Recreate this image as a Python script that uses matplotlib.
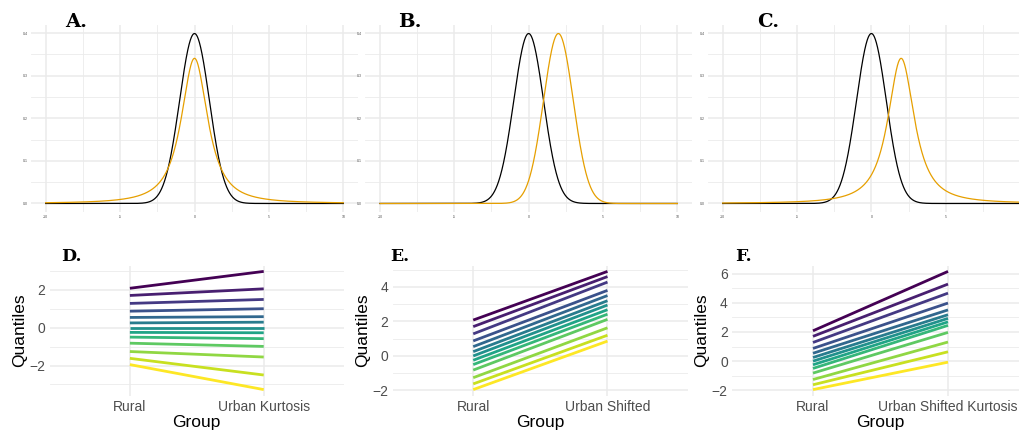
import math
import numpy as np
import matplotlib
matplotlib.use("Agg")
import matplotlib.pyplot as plt

plt.rcParams["font.family"] = ["Liberation Sans", "DejaVu Sans"]

# top row: density curves (normal vs heavy-tailed t)
norm_mean = 0.0
norm_sd = 1.0
t_df = 1.5
shift = 2.0
x_range = (-10, 10)

# bottom row: quantiles per group
rural = [2.08, 1.70, 1.28, 0.87, 0.54, 0.25, 0.00, -0.25, -0.50, -0.82, -1.26, -1.62, -1.95]
urban_kurtosis = [2.97, 2.05, 1.49, 1.00, 0.58, 0.29, 0.00, -0.27, -0.58, -0.99, -1.55, -2.50, -3.27]
urban_shifted = [4.90, 4.60, 4.28, 3.80, 3.50, 3.20, 2.95, 2.68, 2.42, 2.12, 1.63, 1.20, 0.86]
urban_shift_kurt = [6.15, 5.28, 4.66, 3.98, 3.51, 3.18, 2.93, 2.69, 2.45, 1.97, 1.31, 0.64, -0.07]

ORANGE = "#E69F00"
GRID = "#EBEBEB"
W, H = 1019, 433


def dnorm(x, m, s):
    return np.exp(-0.5 * ((x - m) / s) ** 2) / (s * np.sqrt(2 * np.pi))


def dt(x, df, loc=0.0):
    c = math.gamma((df + 1) / 2) / (math.sqrt(df * math.pi) * math.gamma(df / 2))
    return c * (1 + (x - loc) ** 2 / df) ** (-(df + 1) / 2)


def add_axes(fig, left, right, top, bottom):
    return fig.add_axes([left / W, 1 - bottom / H, (right - left) / W, (bottom - top) / H])


def style(ax):
    for s in ax.spines.values():
        s.set_visible(False)
    ax.set_axisbelow(True)
    ax.grid(True, which="major", color=GRID, lw=1.1)
    ax.grid(True, which="minor", color=GRID, lw=0.6)
    ax.tick_params(which="both", length=0)


fig = plt.figure(figsize=(W / 100, H / 100), dpi=100)

xs = np.linspace(x_range[0], x_range[1], 2001)
top_panels = [
    ("A.", (30.8, 358.2), 65, dt(xs, t_df), True),
    ("B.", (365.1, 692.2), 398, dnorm(xs, norm_mean + shift, norm_sd), True),
    ("C.", (707.8, 1035.0), 757, dt(xs, t_df, shift), False),
]
for tag, (l, r), tx, other, show10 in top_panels:
    ax = add_axes(fig, l, r, 25, 212)
    style(ax)
    ax.plot(xs, dnorm(xs, norm_mean, norm_sd), color="black", lw=0.9)
    ax.plot(xs, other, color=ORANGE, lw=0.9)
    ax.set_xticks([-10, -5, 0, 5, 10])
    ax.set_xticklabels(["-10", "-5", "0", "5", "10" if show10 else ""])
    ax.set_xticks([-7.5, -2.5, 2.5, 7.5], minor=True)
    ax.set_yticks([0, 0.1, 0.2, 0.3, 0.4])
    ax.set_yticks([0.05, 0.15, 0.25, 0.35], minor=True)
    ax.set_yticklabels(["0.0", "0.1", "0.2", "0.3", "0.4"])
    ax.tick_params(labelsize=2.5, labelcolor="#4D4D4D", pad=2)
    ax.set_xlim(-11, 11)
    ax.set_ylim(-0.02, 0.419)
    fig.text(tx / W, 1 - 22 / H, tag, fontsize=14, fontweight="bold",
             family="DejaVu Serif", va="center", ha="left")

colors = plt.cm.viridis(np.linspace(0, 1, len(rural)))
bottom_panels = [
    ("D.", (49.6, 344.0), 61, "Urban Kurtosis", urban_kurtosis, [-2, 0, 2], [-3, -1, 1, 3]),
    ("E.", (392.7, 688.0), 390, "Urban Shifted", urban_shifted, [-2, 0, 2, 4], [-1, 1, 3, 5]),
    ("F.", (732.0, 1029.0), 735, "Urban Shifted Kurtosis", urban_shift_kurt,
     [-2, 0, 2, 4, 6], [-1, 1, 3, 5]),
]
for tag, (l, r), tx, name, urban, major, minor in bottom_panels:
    ax = add_axes(fig, l, r, 265.5, 395.5)
    style(ax)
    for i in range(len(rural)):
        ax.plot([1, 2], [rural[i], urban[i]], color=colors[i], lw=2.0,
                solid_capstyle="butt")
    ax.set_xlim(0.4, 2.6)
    ax.margins(y=0.05)
    ax.set_xticks([1, 2])
    ax.set_xticklabels(["Rural", name])
    ax.set_yticks(major)
    ax.set_yticks(minor, minor=True)
    ax.set_yticklabels([str(v).replace("-", "\u2212") for v in major])
    ax.tick_params(labelsize=10, labelcolor="#4D4D4D", pad=3)
    ax.set_xlabel("Group", fontsize=12.5, labelpad=1)
    ax.set_ylabel("Quantiles", fontsize=12.5, labelpad=2)
    fig.text(tx / W, 1 - 256.5 / H, tag, fontsize=12.5, fontweight="bold",
             family="DejaVu Serif", va="center", ha="left")

fig.savefig("out.png", dpi=100)
